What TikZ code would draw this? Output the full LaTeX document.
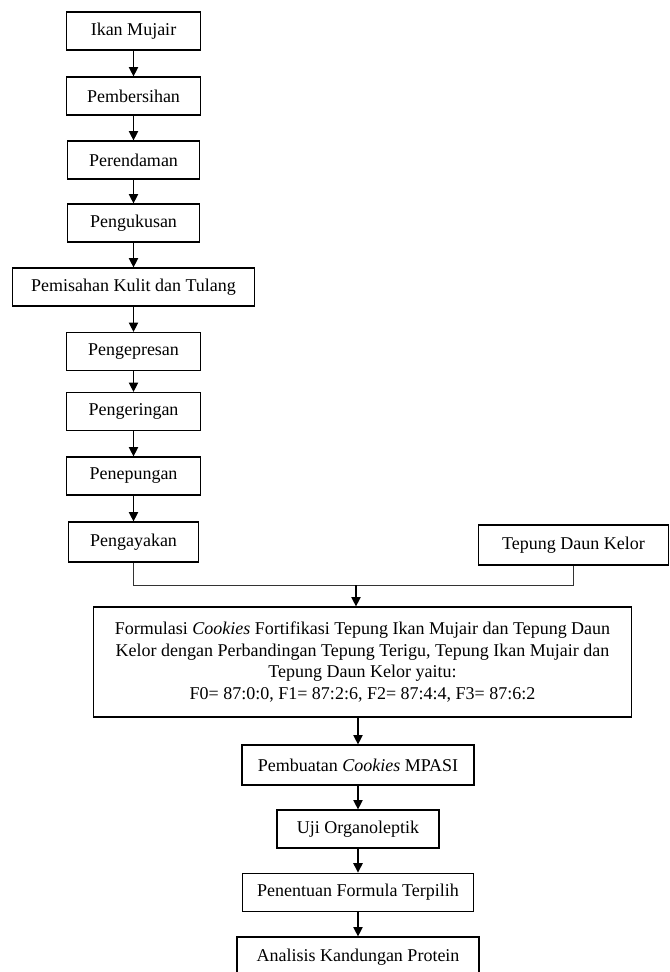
\documentclass[tikz,border=0pt]{standalone}
\usepackage{fontspec}
\setmainfont{Liberation Serif}
\usetikzlibrary{arrows.meta}
\begin{document}
\begin{tikzpicture}[x=0.75pt, y=-0.75pt,
    stage/.style ={rectangle, draw, line width=0.9pt, inner sep=0pt,
      minimum height=28.5pt, font=\fontsize{13.5}{16.2}\selectfont},
    flow/.style ={line width=0.8pt, -{Triangle[length=7pt, width=7pt]}},
    merge/.style ={line width=0.5pt, draw=black!80}]
   \useasboundingbox (0,0) rectangle (670,972);
   \node[stage, minimum width=100pt] (ikan)    at (133.5,31)   {Ikan Mujair};
   \node[stage, minimum width=100pt] (bersih)  at (133.5,96)   {Pembersihan};
   \node[stage, minimum width=99pt]  (rendam)  at (133.5,160)  {Perendaman};
   \node[stage, minimum width=99pt]  (kukus)   at (133.5,223)  {Pengukusan};
   \node[stage, minimum width=181pt] (pisah)   at (133.5,287)  {Pemisahan Kulit dan Tulang};
   \node[stage, minimum width=100pt] (press)   at (133.5,351.5) {Pengepresan};
   \node[stage, minimum width=100pt] (kering)  at (133.5,411.5) {Pengeringan};
   \node[stage, minimum width=100pt] (tepung)  at (133.5,476)  {Penepungan};
   \node[stage, minimum width=98pt, minimum height=30pt] (ayak) at (133.5,542) {Pengayakan};
   \node[stage, minimum width=143pt, minimum height=30pt] (kelor) at (573.5,545) {Tepung Daun Kelor};
   \coordinate (gabung) at (356,585);
   \node[stage, minimum width=403pt, minimum height=82.5pt, align=center] (formulasi) at (362.5,662)
     {Formulasi \textit{Cookies} Fortifikasi Tepung Ikan Mujair dan Tepung Daun\\
      Kelor dengan Perbandingan Tepung Terigu, Tepung Ikan Mujair dan\\
      Tepung Daun Kelor yaitu:\\
      F0= 87:0:0, F1= 87:2:6, F2= 87:4:4, F3= 87:6:2};
   \node[stage, minimum width=174pt, minimum height=30pt] (buat) at (358,765) {Pembuatan \textit{Cookies} MPASI};
   \node[stage, minimum width=121.5pt] (uji)   at (358,829)    {Uji Organoleptik};
   \node[stage, minimum width=173pt, minimum height=29pt] (tentu) at (358,892.5) {Penentuan Formula Terpilih};
   \node[stage, minimum width=181.5pt, minimum height=30pt] (analisis) at (358,957) {Analisis Kandungan Protein};

   \draw[flow] (ikan) to (bersih);
   \draw[flow] (bersih) to (rendam);
   \draw[flow] (rendam) to (kukus);
   \draw[flow] (kukus) to (pisah);
   \draw[flow] (pisah) to (press);
   \draw[flow] (press) to (kering);
   \draw[flow] (kering) to (tepung);
   \draw[flow] (tepung) to (ayak);
   \draw[merge] (ayak.south) |- (gabung) -| (kelor.south);
   \draw[flow] (gabung) to (gabung |- formulasi.north);
   \draw[flow] (formulasi.south -| buat) to (buat);
   \draw[flow] (buat) to (uji);
   \draw[flow] (uji) to (tentu);
   \draw[flow] (tentu) to (analisis);

 \end{tikzpicture}
\end{document}
